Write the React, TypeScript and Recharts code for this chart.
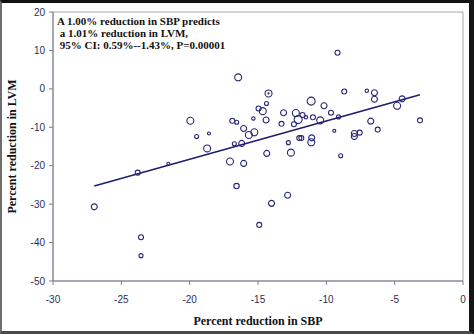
import React from 'react';
import { ScatterChart, Scatter, XAxis, YAxis, ZAxis, ReferenceArea, ReferenceLine, Label } from 'recharts';

// Percent reduction in SBP (x)
const sbpReduction = [
  -26.98, -23.8, -23.56, -23.56, -21.56, -19.95, -19.49, -18.59, -18.72, -17.05,
  -16.05, -16.57, -16.45, -16.88, -16.56, -16.73, -16.19, -16.05, -15.67, -15.27,
  -15.34, -14.96, -14.65, -14.38, -14.23, -14.23, -14.41, -14.36, -14.91, -14.01,
  -12.83, -12.78, -12.59, -13.13, -13.28, -12.23, -12.06, -12.37, -11.74, -11.49,
  -10.98, -11.11, -10.17, -10.45, -9.66, -9.11, -9.18, -8.69, -9.42, -8.95,
  -11.98, -11.83, -11.07, -11.1, -7.95, -7.95, -7.56, -7.04, -6.48, -6.48,
  -6.75, -6.24, -4.45, -4.82, -3.15,
];
// Percent reduction in LVM (y)
const lvmReduction = [
  -30.7, -21.8, -38.6, -43.4, -19.5, -8.3, -12.4, -11.6, -15.5, -18.9,
  -19.4, -25.3, 3.0, -8.3, -8.7, -14.3, -14.2, -10.3, -12.0, -11.3,
  -7.7, -5.1, -5.8, -3.8, -1.2, -1.2, -8.1, -16.8, -35.4, -29.8,
  -27.7, -14.0, -16.6, -6.2, -9.1, -6.3, -8.0, -9.2, -6.8, -7.4,
  -7.4, -3.2, -4.4, -8.2, -6.2, -7.3, 9.4, -0.7, -10.9, -17.4,
  -12.8, -12.8, -12.75, -13.9, -11.6, -12.4, -11.4, -0.5, -1.0, -2.7,
  -8.4, -10.6, -2.6, -4.4, -8.2,
];
// Study weight (bubble size)
const studyWeight = [
  90, 62, 62, 40, 22, 122, 40, 22, 122, 122,
  90, 73, 122, 62, 40, 40, 90, 90, 122, 122,
  29, 62, 122, 40, 122, 3, 90, 90, 62, 90,
  90, 40, 122, 90, 62, 122, 160, 62, 62, 29,
  62, 160, 90, 122, 62, 40, 62, 62, 22, 40,
  62, 62, 90, 122, 90, 90, 62, 29, 90, 90,
  90, 62, 90, 122, 62,
];

// Regression line end points
const fitX = [-26.98, -3.15];
const fitY = [-25.3, -1.55];

const xTicks = [-30, -25, -20, -15, -10, -5, 0];
const yTicks = [-50, -40, -30, -20, -10, 0, 10, 20];

const annotation = [
  'A 1.00% reduction in SBP predicts',
  ' a 1.01% reduction in LVM,',
  ' 95% CI: 0.59%--1.43%, P=0.00001',
];

const points = sbpReduction.map((x, i) => ({ x, y: lvmReduction[i], w: studyWeight[i] }));

const NAVY = '#262673';
const AXIS = '#7a7a96';
const tickStyle = { fontFamily: '"Liberation Sans", Arial, sans-serif', fontSize: 10, fill: '#2e2e55' };
const titleStyle = { fontFamily: '"Liberation Serif", "Times New Roman", serif', fontWeight: 'bold' as const, fill: '#111' };

export default function App() {
  return (
    <div style={{ position: 'fixed', left: 0, top: 0, width: 474, height: 334, background: '#fff' }}>
      <div
        style={{
          position: 'absolute', left: 0, top: 0, width: 474, height: 334, boxSizing: 'border-box',
          borderTop: '3px solid #111', borderLeft: '2px solid #6e6e6e', borderRight: '5px solid #151515',
          borderBottom: '3px solid #4a4a4a', background: '#fff',
        }}
      />
      <div style={{ position: 'absolute', left: 0, top: 0 }}>
        <ScatterChart width={474} height={334} margin={{ top: 12, right: 11, bottom: 23, left: 18 }}>
          <ReferenceArea x1={-30} x2={0} y1={-50} y2={20} fill="none" stroke="#a8a8a8" strokeWidth={1} ifOverflow="visible" />
          <XAxis
            type="number"
            dataKey="x"
            domain={[-30, 0]}
            ticks={xTicks}
            interval={0}
            height={30}
            tickSize={4}
            tickMargin={11}
            stroke={AXIS}
            tick={tickStyle}
            tickLine={{ stroke: AXIS }}
            axisLine={{ stroke: AXIS }}
          >
            <Label value="Percent reduction in SBP" position="bottom" offset={5} style={{ ...titleStyle, fontSize: 12 }} />
          </XAxis>
          <YAxis
            type="number"
            dataKey="y"
            domain={[-50, 20]}
            ticks={yTicks}
            interval={0}
            width={35}
            tickSize={4}
            tickMargin={4}
            stroke={AXIS}
            tick={tickStyle}
            tickLine={{ stroke: AXIS }}
            axisLine={{ stroke: AXIS }}
          >
            <Label value="Percent reduction in LVM" position="left" angle={-90} offset={6} style={{ ...titleStyle, fontSize: 12, textAnchor: 'middle' }} />
          </YAxis>
          <ZAxis type="number" dataKey="w" domain={[0, 160]} range={[0, 50.3]} />
          <ReferenceLine
            segment={[{ x: fitX[0], y: fitY[0] }, { x: fitX[1], y: fitY[1] }]}
            stroke="#1e1e6e"
            strokeWidth={1.6}
          />
          <Scatter data={points} shape="circle" fill="none" stroke={NAVY} strokeWidth={1.1} isAnimationActive={false} />
        </ScatterChart>
      </div>
      <svg width={474} height={334} style={{ position: 'absolute', left: 0, top: 0, pointerEvents: 'none' }}>
        {annotation.map((line, i) => (
          <text key={i} x={57} y={25 + i * 12} style={{ ...titleStyle, fontSize: 11, whiteSpace: 'pre' }}>
            {line}
          </text>
        ))}
      </svg>
    </div>
  );
}
